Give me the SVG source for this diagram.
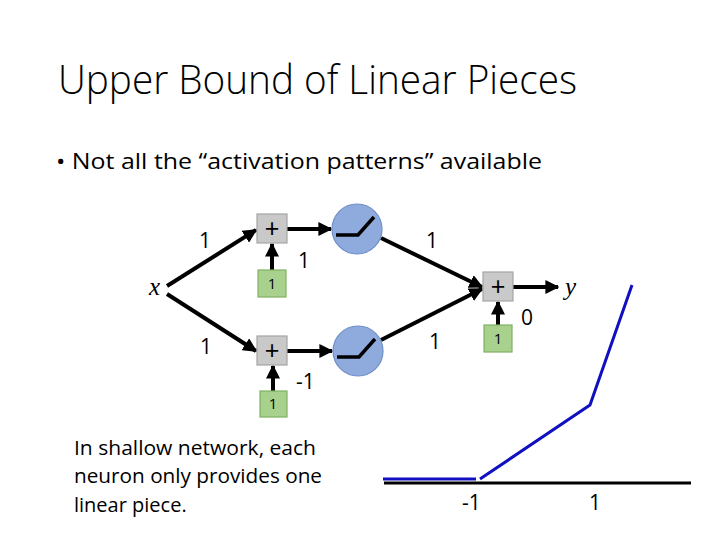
<svg xmlns="http://www.w3.org/2000/svg" width="720" height="540" viewBox="0 0 720 540">
<style>
.t{font-family:"Open Sans","Liberation Sans",sans-serif;fill:#000}
.lbl{font-family:"Open Sans","Liberation Sans",sans-serif;font-size:21px;fill:#000}
.plus{fill:#c9c9c9;stroke:#a5a5a5;stroke-width:1.2}
.bias{fill:#a9d18e;stroke:#7fb060;stroke-width:1.2}
.neu{fill:#8faadc;stroke:#6f8fc8;stroke-width:1.2}
.e{stroke:#000;stroke-width:4;fill:none}
.relu{stroke:#000;stroke-width:3.5;fill:none}
.bx{font-family:"Open Sans","Liberation Sans",sans-serif;font-size:15px;text-anchor:middle;fill:#000}
.ps{font-family:"Liberation Sans",sans-serif;font-size:25px;text-anchor:middle;fill:#000}
.math{font-family:"Liberation Serif",serif;font-style:italic;font-size:25px;fill:#000}
</style>
<defs>
<marker id="ah" viewBox="0 0 10 10" refX="9" refY="5" markerWidth="3.5" markerHeight="3.5" orient="auto" markerUnits="strokeWidth">
<path d="M0,0 L10,5 L0,10 z" fill="#000"/>
</marker>
</defs>
<rect width="720" height="540" fill="#fff"/>
<text class="t" x="58" y="94" font-size="40" font-weight="300" textLength="519" lengthAdjust="spacingAndGlyphs">Upper Bound of Linear Pieces</text>
<text class="t" x="56" y="169" font-size="22" textLength="486" lengthAdjust="spacingAndGlyphs">• Not all the “activation patterns” available</text>
<g id="connectors">
<line class="e" x1="167" y1="286" x2="256" y2="230" marker-end="url(#ah)"/>
<line class="e" x1="167" y1="294" x2="256" y2="351" marker-end="url(#ah)"/>
<line class="e" x1="272" y1="270" x2="272" y2="244" marker-end="url(#ah)"/>
<line class="e" x1="273" y1="391" x2="273" y2="366" marker-end="url(#ah)"/>
<line class="e" x1="287" y1="229" x2="331" y2="229" marker-end="url(#ah)"/>
<line class="e" x1="287" y1="351" x2="332" y2="351" marker-end="url(#ah)"/>
<line class="e" x1="381" y1="238" x2="482" y2="287" marker-end="url(#ah)"/>
<line class="e" x1="381" y1="340" x2="482" y2="289" marker-end="url(#ah)"/>
<line class="e" x1="498" y1="325" x2="498" y2="302" marker-end="url(#ah)"/>
<line class="e" x1="513" y1="287" x2="558" y2="287" marker-end="url(#ah)"/>
</g>
<g id="x"><text class="math" x="149" y="295">x</text></g>
<g id="y"><text class="math" x="565" y="295">y</text></g>
<g id="sum1"><rect class="plus" x="257" y="214" width="30" height="29"/><text class="ps" x="272" y="237">+</text></g>
<g id="bias1"><rect class="bias" x="258" y="270" width="28" height="27"/><text class="bx" x="272" y="289">1</text></g>
<g id="sum2"><rect class="plus" x="257" y="336" width="30" height="29"/><text class="ps" x="272" y="359">+</text></g>
<g id="bias2"><rect class="bias" x="260" y="391" width="27" height="26"/><text class="bx" x="273" y="409">1</text></g>
<g id="neuron1"><circle class="neu" cx="357" cy="229" r="25"/><polyline class="relu" points="336,235 358,235 374,217"/></g>
<g id="neuron2"><circle class="neu" cx="358" cy="351" r="25"/><polyline class="relu" points="337,357 359,357 375,339"/></g>
<g id="sum3"><rect class="plus" x="483" y="272" width="30" height="29"/><text class="ps" x="498" y="295">+</text></g>
<g id="bias3"><rect class="bias" x="484" y="325" width="28" height="27"/><text class="bx" x="498" y="344">1</text></g>
<g id="labels">
<text class="lbl" x="199" y="248">1</text>
<text class="lbl" x="298" y="268">1</text>
<text class="lbl" x="200" y="354">1</text>
<text class="lbl" x="296" y="389">-1</text>
<text class="lbl" x="426" y="248">1</text>
<text class="lbl" x="429" y="349">1</text>
<text class="lbl" x="521" y="325">0</text>
</g>
<g id="note">
<text class="t" font-size="20" x="74" y="455" textLength="242" lengthAdjust="spacingAndGlyphs">In shallow network, each</text>
<text class="t" font-size="20" x="74" y="483" textLength="248" lengthAdjust="spacingAndGlyphs">neuron only provides one</text>
<text class="t" font-size="20" x="74" y="512">linear piece.</text>
</g>
<g id="plot">
<line x1="384" y1="483" x2="691" y2="483" stroke="#000" stroke-width="3"/>
<line x1="383" y1="479" x2="476" y2="479" stroke="#1010c0" stroke-width="3"/>
<polyline points="480,479 590,405 632,285" fill="none" stroke="#1010c0" stroke-width="3"/>
<text class="lbl" x="462" y="510">-1</text>
<text class="lbl" x="589" y="510">1</text>
</g>
</svg>
